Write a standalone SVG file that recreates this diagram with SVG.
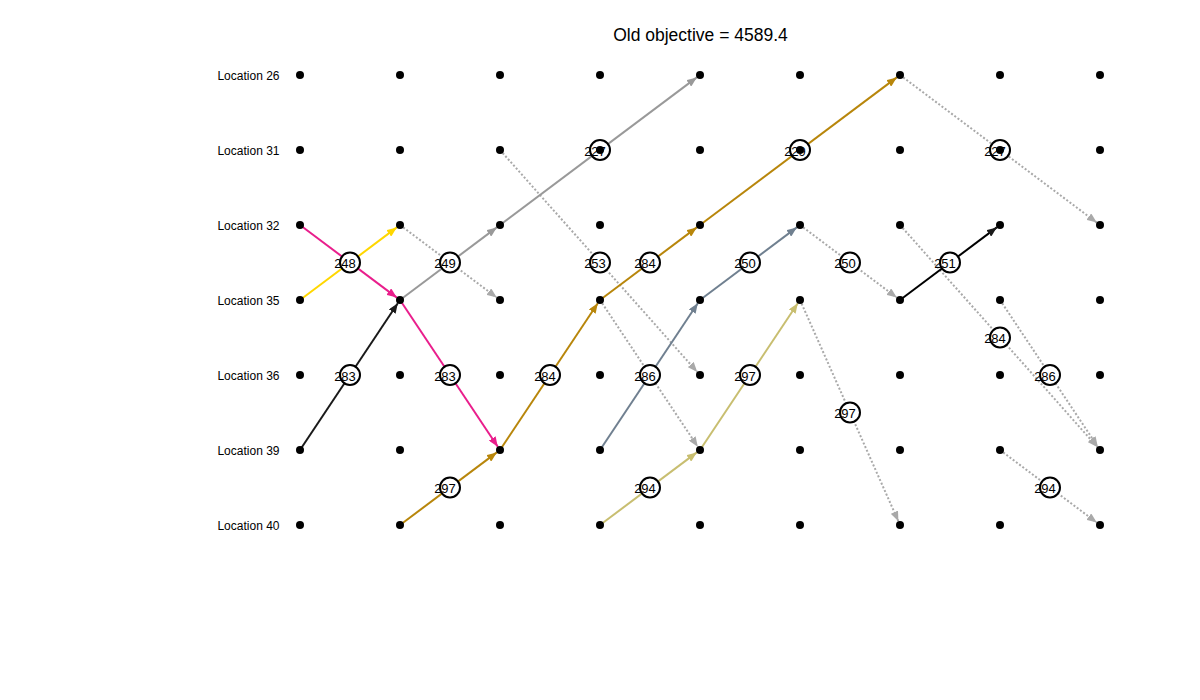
<svg xmlns="http://www.w3.org/2000/svg" width="1200" height="700" viewBox="0 0 1200 700">
<style>
.loc{font-family:"Liberation Sans",Arial,sans-serif;font-size:12px;fill:#000;text-anchor:end}
.title{font-family:"Liberation Sans",Arial,sans-serif;font-size:17.5px;fill:#000;text-anchor:middle}
.lbl circle{fill:#fff;stroke:#000;stroke-width:2}
.lbl text{font-family:"Liberation Sans",Arial,sans-serif;font-size:13px;fill:#000;text-anchor:middle}
.dot{fill:#000}
.e{fill:none;stroke-width:2}
.dotted{fill:none;stroke:#a9a9a9;stroke-width:2;stroke-dasharray:2 2;marker-end:url(#aDot)}
</style>
<defs>
<marker id="aPink" markerUnits="userSpaceOnUse" markerWidth="10" markerHeight="8" refX="10" refY="4" orient="auto"><path d="M0,0 L10,4 L0,8 z" fill="#e91e8c"/></marker>
<marker id="aGold" markerUnits="userSpaceOnUse" markerWidth="10" markerHeight="8" refX="10" refY="4" orient="auto"><path d="M0,0 L10,4 L0,8 z" fill="#ffd700"/></marker>
<marker id="aBlack" markerUnits="userSpaceOnUse" markerWidth="10" markerHeight="8" refX="10" refY="4" orient="auto"><path d="M0,0 L10,4 L0,8 z" fill="#1a1a1a"/></marker>
<marker id="aGray" markerUnits="userSpaceOnUse" markerWidth="10" markerHeight="8" refX="10" refY="4" orient="auto"><path d="M0,0 L10,4 L0,8 z" fill="#999999"/></marker>
<marker id="aGoldenrod" markerUnits="userSpaceOnUse" markerWidth="10" markerHeight="8" refX="10" refY="4" orient="auto"><path d="M0,0 L10,4 L0,8 z" fill="#b8860b"/></marker>
<marker id="aSlate" markerUnits="userSpaceOnUse" markerWidth="10" markerHeight="8" refX="10" refY="4" orient="auto"><path d="M0,0 L10,4 L0,8 z" fill="#708090"/></marker>
<marker id="aKhaki" markerUnits="userSpaceOnUse" markerWidth="10" markerHeight="8" refX="10" refY="4" orient="auto"><path d="M0,0 L10,4 L0,8 z" fill="#c8be70"/></marker>
<marker id="aDot" markerUnits="userSpaceOnUse" markerWidth="10" markerHeight="8" refX="10" refY="4" orient="auto"><path d="M0,0 L10,4 L0,8 z" fill="#a9a9a9"/></marker>
</defs>
<rect width="1200" height="700" fill="#fff"/>
<text class="title" x="700.5" y="41">Old objective = 4589.4</text>
<g id="axis-labels">
<text class="loc" x="279.5" y="79.5">Location 26</text>
<text class="loc" x="279.5" y="154.5">Location 31</text>
<text class="loc" x="279.5" y="229.5">Location 32</text>
<text class="loc" x="279.5" y="304.5">Location 35</text>
<text class="loc" x="279.5" y="379.5">Location 36</text>
<text class="loc" x="279.5" y="454.5">Location 39</text>
<text class="loc" x="279.5" y="529.5">Location 40</text>
</g>
<g id="connectors">
<path class="dotted" d="M400,225 L496.8,297.6"/>
<path class="dotted" d="M500,150 L697.3,372"/>
<path class="dotted" d="M600,300 L697.8,446.7"/>
<path class="dotted" d="M800,225 L896.8,297.6"/>
<path class="dotted" d="M800,300 L898.4,521.3"/>
<path class="dotted" d="M900,75 L1096.8,222.6"/>
<path class="dotted" d="M900,225 L1097.3,447"/>
<path class="dotted" d="M1000,300 L1097.8,446.7"/>
<path class="dotted" d="M1000,450 L1096.8,522.6"/>
<path class="e" stroke="#e91e8c" marker-end="url(#aPink)" d="M300,225 L396.8,297.6"/>
<path class="e" stroke="#e91e8c" marker-end="url(#aPink)" d="M400,300 L497.8,446.7"/>
<path class="e" stroke="#ffd700" marker-end="url(#aGold)" d="M300,300 L396.8,227.4"/>
<path class="e" stroke="#1a1a1a" marker-end="url(#aBlack)" d="M300,450 L397.8,303.3"/>
<path class="e" stroke="#999999" marker-end="url(#aGray)" d="M400,300 L496.8,227.4"/>
<path class="e" stroke="#999999" stroke-width="2.5" marker-end="url(#aGray)" d="M500,225 L696.8,77.4"/>
<path class="e" stroke="#b8860b" marker-end="url(#aGoldenrod)" d="M400,525 L496.8,452.4"/>
<path class="e" stroke="#b8860b" marker-end="url(#aGoldenrod)" d="M500,450 L597.8,303.3"/>
<path class="e" stroke="#b8860b" marker-end="url(#aGoldenrod)" d="M600,300 L696.8,227.4"/>
<path class="e" stroke="#b8860b" marker-end="url(#aGoldenrod)" d="M700,225 L896.8,77.4"/>
<path class="e" stroke="#708090" marker-end="url(#aSlate)" d="M600,450 L697.8,303.3"/>
<path class="e" stroke="#708090" marker-end="url(#aSlate)" d="M700,300 L796.8,227.4"/>
<path class="e" stroke="#c8be70" marker-end="url(#aKhaki)" d="M600,525 L696.8,452.4"/>
<path class="e" stroke="#c8be70" marker-end="url(#aKhaki)" d="M700,450 L797.8,303.3"/>
<path class="e" stroke="#000" marker-end="url(#aBlack)" d="M900,300 L996.8,227.4"/>
</g>
<g id="edge-labels" class="lbl">
<circle cx="350" cy="262.5" r="10"/>
<circle cx="450" cy="262.5" r="10"/>
<circle cx="350" cy="375" r="10"/>
<circle cx="450" cy="375" r="10"/>
<circle cx="450" cy="487.5" r="10"/>
<circle cx="600" cy="150" r="10"/>
<circle cx="600" cy="262.5" r="10"/>
<circle cx="650" cy="262.5" r="10"/>
<circle cx="550" cy="375" r="10"/>
<circle cx="650" cy="375" r="10"/>
<circle cx="650" cy="487.5" r="10"/>
<circle cx="800" cy="150" r="10"/>
<circle cx="750" cy="262.5" r="10"/>
<circle cx="850" cy="262.5" r="10"/>
<circle cx="750" cy="375" r="10"/>
<circle cx="850" cy="412.5" r="10"/>
<circle cx="1000" cy="150" r="10"/>
<circle cx="950" cy="262.5" r="10"/>
<circle cx="1000" cy="337.5" r="10"/>
<circle cx="1050" cy="375" r="10"/>
<circle cx="1050" cy="487.5" r="10"/>
<text x="345" y="268">248</text>
<text x="445" y="268">249</text>
<text x="345" y="380.5">283</text>
<text x="445" y="380.5">283</text>
<text x="445" y="493">297</text>
<text x="595" y="155.5">227</text>
<text x="595" y="268">253</text>
<text x="645" y="268">284</text>
<text x="545" y="380.5">284</text>
<text x="645" y="380.5">286</text>
<text x="645" y="493">294</text>
<text x="795" y="155.5">229</text>
<text x="745" y="268">250</text>
<text x="845" y="268">250</text>
<text x="745" y="380.5">297</text>
<text x="845" y="418">297</text>
<text x="995" y="155.5">227</text>
<text x="945" y="268">251</text>
<text x="995" y="343">284</text>
<text x="1045" y="380.5">286</text>
<text x="1045" y="493">294</text>
</g>
<g id="nodes" class="dot">
<g id="row-26"><circle cx="300" cy="75" r="4"/><circle cx="400" cy="75" r="4"/><circle cx="500" cy="75" r="4"/><circle cx="600" cy="75" r="4"/><circle cx="700" cy="75" r="4"/><circle cx="800" cy="75" r="4"/><circle cx="900" cy="75" r="4"/><circle cx="1000" cy="75" r="4"/><circle cx="1100" cy="75" r="4"/></g>
<g id="row-31"><circle cx="300" cy="150" r="4"/><circle cx="400" cy="150" r="4"/><circle cx="500" cy="150" r="4"/><circle cx="600" cy="150" r="4"/><circle cx="700" cy="150" r="4"/><circle cx="800" cy="150" r="4"/><circle cx="900" cy="150" r="4"/><circle cx="1000" cy="150" r="4"/><circle cx="1100" cy="150" r="4"/></g>
<g id="row-32"><circle cx="300" cy="225" r="4"/><circle cx="400" cy="225" r="4"/><circle cx="500" cy="225" r="4"/><circle cx="600" cy="225" r="4"/><circle cx="700" cy="225" r="4"/><circle cx="800" cy="225" r="4"/><circle cx="900" cy="225" r="4"/><circle cx="1000" cy="225" r="4"/><circle cx="1100" cy="225" r="4"/></g>
<g id="row-35"><circle cx="300" cy="300" r="4"/><circle cx="400" cy="300" r="4"/><circle cx="500" cy="300" r="4"/><circle cx="600" cy="300" r="4"/><circle cx="700" cy="300" r="4"/><circle cx="800" cy="300" r="4"/><circle cx="900" cy="300" r="4"/><circle cx="1000" cy="300" r="4"/><circle cx="1100" cy="300" r="4"/></g>
<g id="row-36"><circle cx="300" cy="375" r="4"/><circle cx="400" cy="375" r="4"/><circle cx="500" cy="375" r="4"/><circle cx="600" cy="375" r="4"/><circle cx="700" cy="375" r="4"/><circle cx="800" cy="375" r="4"/><circle cx="900" cy="375" r="4"/><circle cx="1000" cy="375" r="4"/><circle cx="1100" cy="375" r="4"/></g>
<g id="row-39"><circle cx="300" cy="450" r="4"/><circle cx="400" cy="450" r="4"/><circle cx="500" cy="450" r="4"/><circle cx="600" cy="450" r="4"/><circle cx="700" cy="450" r="4"/><circle cx="800" cy="450" r="4"/><circle cx="900" cy="450" r="4"/><circle cx="1000" cy="450" r="4"/><circle cx="1100" cy="450" r="4"/></g>
<g id="row-40"><circle cx="300" cy="525" r="4"/><circle cx="400" cy="525" r="4"/><circle cx="500" cy="525" r="4"/><circle cx="600" cy="525" r="4"/><circle cx="700" cy="525" r="4"/><circle cx="800" cy="525" r="4"/><circle cx="900" cy="525" r="4"/><circle cx="1000" cy="525" r="4"/><circle cx="1100" cy="525" r="4"/></g>
</g>
</svg>
